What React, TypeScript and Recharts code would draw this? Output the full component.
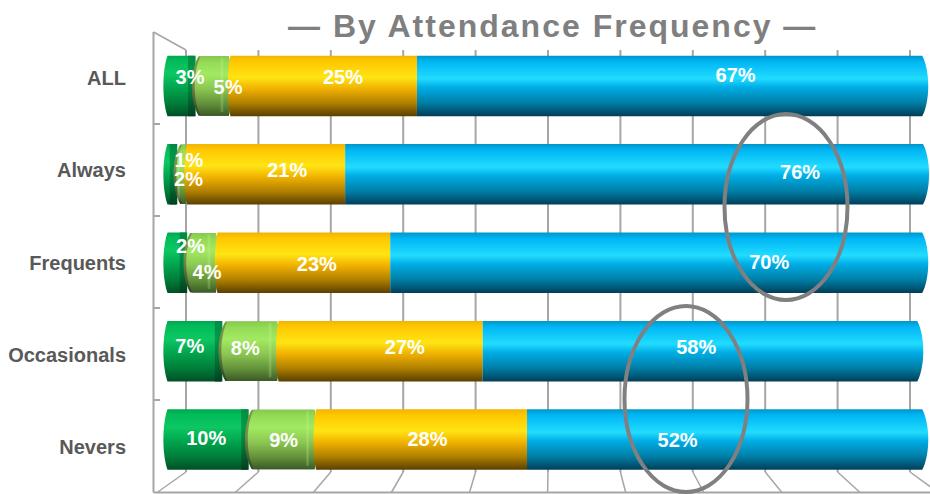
import { Bar, BarChart, CartesianGrid, LabelList, XAxis, YAxis } from 'recharts'

const CATEGORIES = ['ALL', 'Always', 'Frequents', 'Occasionals', 'Nevers']

// segment lengths as drawn (the 3D original does not follow its printed labels exactly)
const GREEN_LEN = [4.2, 1.8, 3.1, 7.7, 11.15]
const LIME_LEN = [4.3, 1.0, 3.7, 7.1, 8.55]
const GOLD_LEN = [24.6, 20.9, 22.8, 26.9, 27.8]
const BLUE_LEN = [66.9, 76.4, 70.4, 57.65, 52.5]

// printed labels
const GREEN_PCT = [3, 1, 2, 7, 10]
const LIME_PCT = [5, 2, 4, 8, 9]
const GOLD_PCT = [25, 21, 23, 27, 28]
const BLUE_PCT = [67, 76, 70, 58, 52]

const WALL_TICKS = [0, 10, 20, 30, 40, 50, 60, 70, 80, 90, 100]

const rows = CATEGORIES.map((name, i) => ({
  name,
  green: GREEN_LEN[i],
  lime: LIME_LEN[i],
  gold: GOLD_LEN[i],
  blue: BLUE_LEN[i],
  greenPct: GREEN_PCT[i],
  limePct: LIME_PCT[i],
  goldPct: GOLD_PCT[i],
  bluePct: BLUE_PCT[i],
}))

const FONT = '"Liberation Sans", Arial, sans-serif'
const WALL = '#a6a6a6'

// label nudges per row, the original labels were dragged by hand
const NUDGE: Record<string, [number, number][]> = {
  green: [[10, -9], [18, -14.6], [14.7, -16.8], [-3.6, -5], [-0.4, -1.4]],
  lime: [[15.5, 1], [7, 4.7], [5.2, 8.9], [-4.7, -3], [1.8, 0.3]],
  gold: [[20, -9], [22, -4.3], [13.7, 0.9], [25, -4], [6.7, -0.7]],
  blue: [[63, -10.5], [163, -2.3], [110, -0.8], [-6.8, -4.3], [-50, 0.3]],
}

const STOPS: Record<string, [number, string][]> = {
  green: [[0, '#00a650'], [0.08, '#00bb58'], [0.3, '#0cc762'], [0.55, '#00a24c'], [0.8, '#007a38'], [1, '#004f25']],
  greenEnd: [[0, '#008a42'], [0.3, '#009a4a'], [0.6, '#007a3a'], [1, '#003f1e']],
  lime: [[0, '#86c94c'], [0.1, '#93da56'], [0.3, '#a2ea62'], [0.55, '#8bc652'], [0.8, '#62903a'], [1, '#3b5a26']],
  limeRim: [[0, '#6f9c45'], [0.4, '#7a8f4a'], [0.7, '#55693a'], [1, '#2e4020']],
  gold: [[0, '#f2b400'], [0.1, '#ffc800'], [0.36, '#ffe414'], [0.55, '#f0b000'], [0.78, '#b08000'], [1, '#5a4000']],
  blue: [[0, '#0097c9'], [0.1, '#00b6f4'], [0.38, '#22dcff'], [0.52, '#00aee6'], [0.78, '#007ea6'], [1, '#003f58']],
}

function cylinder(xL: number, xR: number, y: number, h: number, lb: number, rb: number) {
  return `M${xL},${y} H${xR} C${xR + rb},${y + h * 0.25} ${xR + rb},${y + h * 0.75} ${xR},${y + h} H${xL} C${xL - lb},${y + h * 0.75} ${xL - lb},${y + h * 0.25} ${xL},${y} Z`
}

function Segment({ kind, x, y, width, height }: any) {
  const right = x + width
  if (kind === 'green') {
    return (
      <g>
        <path d={cylinder(x + 3.5, right - 1.5, y, height, 5.5, 0)} fill="url(#cyl-green)" />
        <path d={cylinder(right - 8, right - 0.5, y, height, 0, 0)} fill="url(#cyl-greenEnd)" />
      </g>
    )
  }
  if (kind === 'lime') {
    return (
      <g>
        <path d={cylinder(x + 2.5, right, y + 0.5, height - 1, 9, 2)} fill="url(#cyl-limeRim)" />
        <path d={cylinder(x + 4.5, right, y + 0.5, height - 1, 8, 2)} fill="url(#cyl-lime)" />
        <rect x={right - 9} y={y + 2} width={4} height={height - 6} fill="url(#lime-band)" />
      </g>
    )
  }
  if (kind === 'gold') {
    return <path d={cylinder(x + 1.5, right, y, height, 3.5, 0)} fill="url(#cyl-gold)" />
  }
  return <path d={cylinder(x, right - 6, y, height, 0, 8)} fill="url(#cyl-blue)" />
}

function pctLabel(kind: string) {
  return ({ x, y, width, height, value, index }: any) => {
    const [dx, dy] = NUDGE[kind][index]
    return (
      <text
        x={x + width / 2 + dx}
        y={y + height / 2 + dy + 7}
        textAnchor="middle"
        fill="#fff"
        fontFamily={FONT}
        fontWeight="bold"
        fontSize={20}
      >
        {value}%
      </text>
    )
  }
}

// back wall + floor of the fake 3D frame, hung on the grid's vertical lines
function WallLine({ x1, index }: any) {
  const frontX = 157 + (x1 - 186) * 1.079
  return (
    <g fill="none" stroke={WALL}>
      <line x1={x1} y1={50} x2={x1} y2={472} strokeWidth={2} />
      <line x1={x1} y1={472} x2={frontX} y2={492.5} strokeWidth={1.5} />
      {index === 0 && (
        <>
          <line x1={153.5} y1={32} x2={153.5} y2={492.5} strokeWidth={2} />
          <line x1={153.5} y1={32} x2={186} y2={50} strokeWidth={1.5} />
          <line x1={153.5} y1={492.5} x2={930} y2={492.5} strokeWidth={2} />
          {[124, 216, 308, 400].map((t) => (
            <line key={t} x1={153.5} y1={t} x2={160} y2={t} strokeWidth={2} />
          ))}
        </>
      )}
    </g>
  )
}

export default function App() {
  return (
    <div style={{ position: 'absolute', left: 0, top: 0, width: 930, height: 494, background: '#fff', overflow: 'hidden' }}>
      <BarChart
        width={930}
        height={494}
        data={rows}
        layout="vertical"
        margin={{ top: 32, right: 1, bottom: 1, left: 0 }}
        barSize={60.5}
      >
        <defs>
          {Object.keys(STOPS).map((k) => (
            <linearGradient key={k} id={`cyl-${k}`} x1="0" y1="0" x2="0" y2="1">
              {STOPS[k].map(([o, c]) => (
                <stop key={o} offset={o} stopColor={c} />
              ))}
            </linearGradient>
          ))}
          <linearGradient id="lime-band" x1="0" y1="0" x2="1" y2="0">
            <stop offset={0} stopColor="#d2f7a0" stopOpacity={0} />
            <stop offset={0.5} stopColor="#d2f7a0" stopOpacity={0.3} />
            <stop offset={1} stopColor="#d2f7a0" stopOpacity={0} />
          </linearGradient>
        </defs>
        <CartesianGrid
          horizontal={false}
          verticalPoints={WALL_TICKS.map((t) => 186 + t * 7.24)}
          vertical={(p: any) => <WallLine key={p.index} {...p} />}
        />
        <XAxis type="number" domain={[0, 100]} hide />
        <YAxis
          yAxisId="names"
          type="category"
          dataKey="name"
          width={164}
          axisLine={false}
          tickLine={false}
          tickSize={0}
          tickMargin={38}
          tick={{ fill: '#595959', fontFamily: FONT, fontWeight: 'bold', fontSize: 20 }}
        />
        <YAxis yAxisId="bars" type="category" dataKey="name" width={0} hide padding={{ top: 9.7, bottom: 9.3 }} />
        {['green', 'lime', 'gold', 'blue'].map((kind) => (
          <Bar
            key={kind}
            dataKey={kind}
            stackId="a"
            yAxisId="bars"
            isAnimationActive={false}
            shape={(p: any) => <Segment {...p} kind={kind} />}
          >
            <LabelList dataKey={`${kind}Pct`} content={pctLabel(kind)} />
          </Bar>
        ))}
      </BarChart>
      <svg width={930} height={494} style={{ position: 'absolute', left: 0, top: 0, pointerEvents: 'none' }}>
        <ellipse cx={786} cy={207} rx={61.5} ry={93} fill="none" stroke="#808080" strokeWidth={4} />
        <ellipse cx={686} cy={399} rx={61.5} ry={93} fill="none" stroke="#808080" strokeWidth={4} />
      </svg>
      <div
        style={{
          position: 'absolute',
          left: 288,
          top: 8,
          whiteSpace: 'nowrap',
          fontFamily: FONT,
          fontWeight: 'bold',
          fontSize: 32,
          letterSpacing: 2,
          lineHeight: '37px',
          color: '#7f7f7f',
        }}
      >
        — By Attendance Frequency —
      </div>
    </div>
  )
}
